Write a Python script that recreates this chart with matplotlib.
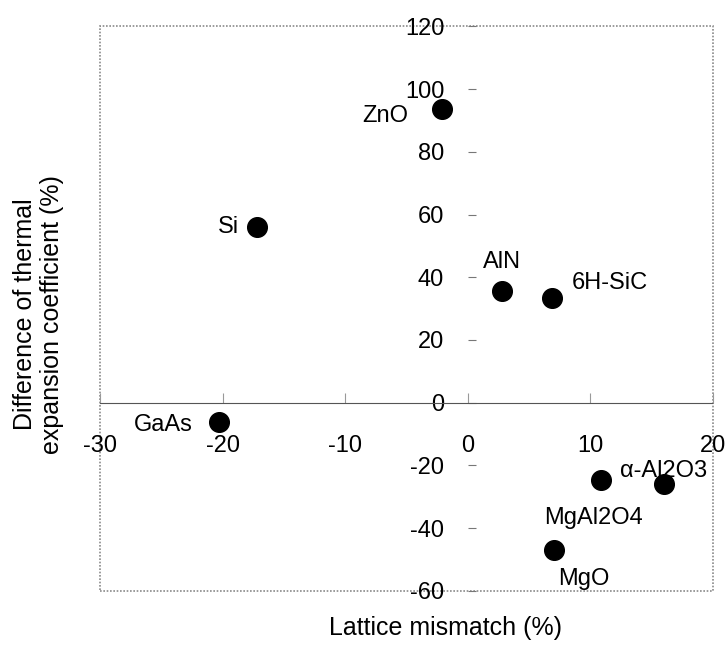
import matplotlib.pyplot as plt
from matplotlib.patches import Rectangle

plt.rcParams['font.family'] = ['Liberation Sans', 'DejaVu Sans']
plt.rcParams['axes.unicode_minus'] = False

# substrate materials: lattice mismatch vs thermal expansion difference (%)
materials = ['ZnO', 'Si', 'AlN', '6H-SiC', 'GaAs', 'MgAl2O4', 'α-Al2O3', 'MgO']
mismatch = [-2.1, -17.2, 2.8, 6.9, -20.3, 10.9, 16.0, 7.0]
expansion = [93.6, 56.0, 35.6, 33.3, -6.3, -24.7, -25.8, -47.0]

# label offsets in points, with horizontal alignment
offsets = {
    'ZnO': ((-24, -5), 'right'),
    'Si': ((-13, 0), 'right'),
    'AlN': ((0, 21), 'center'),
    '6H-SiC': ((14, 11), 'left'),
    'GaAs': ((-19, -2), 'right'),
    'MgAl2O4': ((-6, -27), 'center'),
    'α-Al2O3': ((-32, 9), 'left'),
    'MgO': ((22, -21), 'center'),
}

fig = plt.figure(figsize=(7.26, 6.48), dpi=100)
ax = fig.add_axes([100/726, 1 - 590.7/648, 613/726, 564.2/648])

ax.scatter(mismatch, expansion, s=200, color='black', zorder=3)
for name, x, y in zip(materials, mismatch, expansion):
    (dx, dy), ha = offsets[name]
    ax.annotate(name, (x, y), xytext=(dx, dy), textcoords='offset points',
                ha=ha, va='center', fontsize=17, zorder=2)

ax.set_xlim(-30, 20)
ax.set_ylim(-60, 120)
ax.set_xticks(range(-30, 21, 10))
ax.set_yticks(range(-60, 121, 20))

# axes cross at the origin, outer frame drawn separately
ax.spines['left'].set_position(('data', 0))
ax.spines['bottom'].set_position(('data', 0))
ax.spines['left'].set_color('none')
ax.spines['bottom'].set_color('#555555')
ax.spines['bottom'].set_linestyle((0, (3, 1)))
ax.spines['top'].set_visible(False)
ax.spines['right'].set_visible(False)
ax.add_patch(Rectangle((0, 0), 1, 1, transform=ax.transAxes, fill=False,
                       edgecolor='#8a8a8a', lw=1.2, ls=(0, (1, 1)),
                       clip_on=False, zorder=1))

ax.tick_params(axis='x', direction='in', length=7, color='#999999',
               pad=23, labelsize=17)
ax.tick_params(axis='y', direction='in', length=6, color='#777777',
               pad=17, labelsize=17)

ax.set_xlabel('Lattice mismatch (%)', fontsize=18)
ax.xaxis.set_label_coords(0.563, -0.045)
ax.set_ylabel('Difference of thermal\nexpansion coefficient (%)', fontsize=18)
ax.yaxis.set_label_coords(-0.058, 0.49)

fig.savefig('out.png', dpi=100)
